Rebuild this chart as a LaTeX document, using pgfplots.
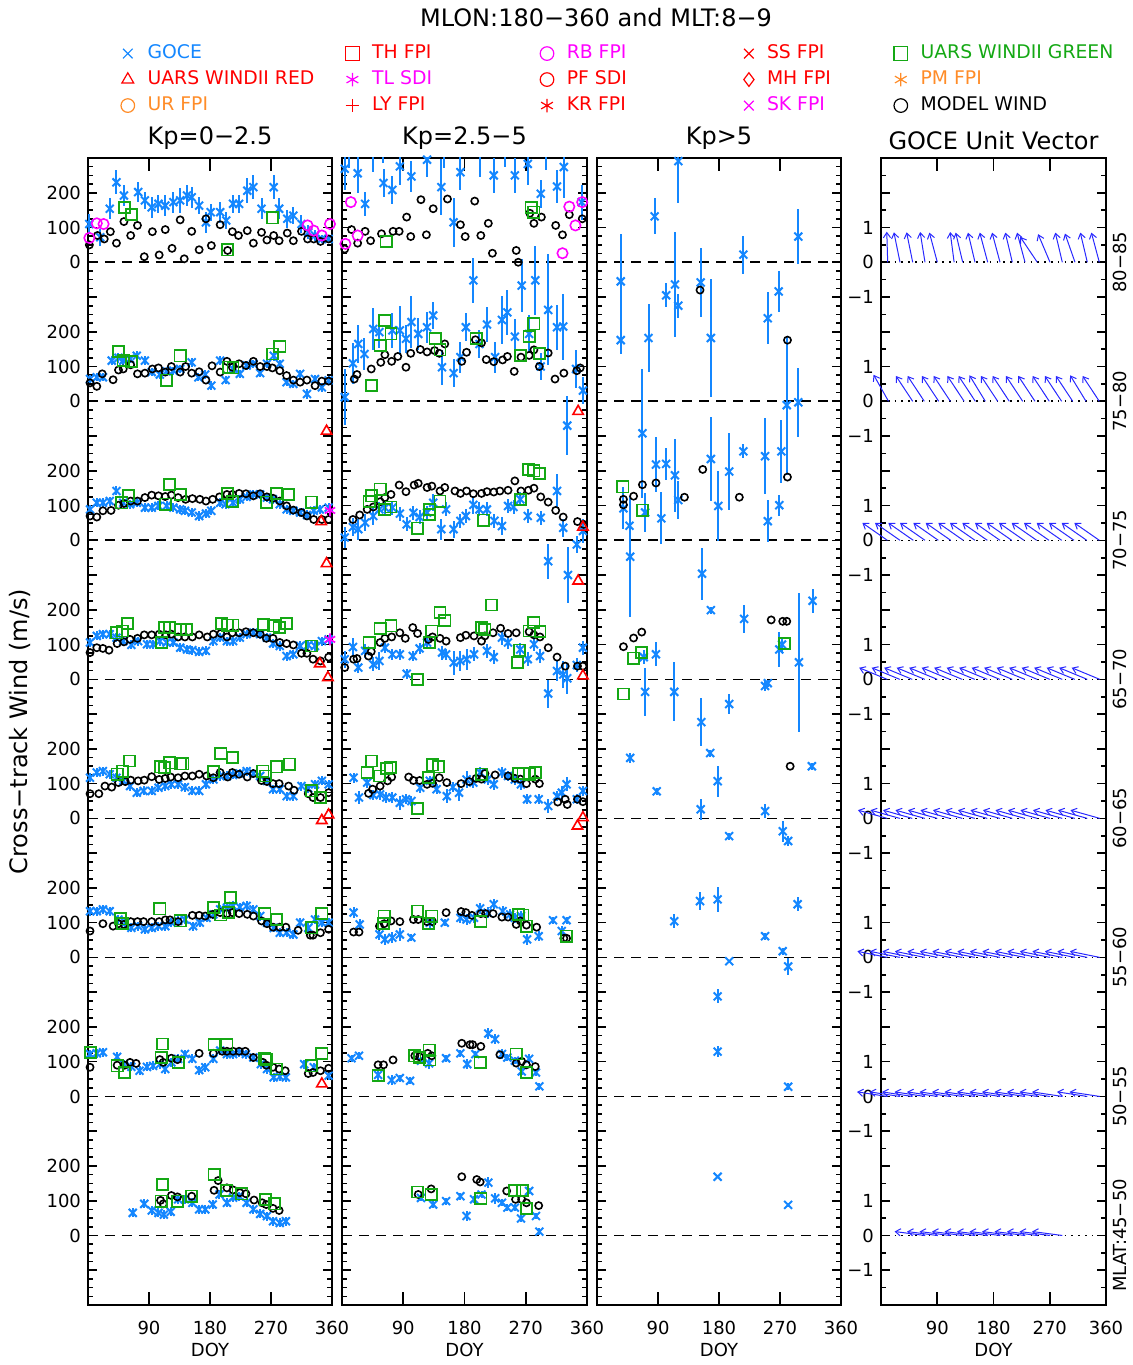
\documentclass[border=0pt]{standalone}
\usepackage{pgfplots}
\pgfplotsset{compat=1.18}
\usepackage{pgfplotstable}
\usepackage{fontspec}
\setmainfont{DejaVu Sans}
\usetikzlibrary{arrows.meta}

\definecolor{goce}{RGB}{20,135,255}
\definecolor{windiig}{RGB}{20,168,20}
\definecolor{fpired}{RGB}{255,0,0}
\definecolor{fpimag}{RGB}{255,0,255}
\definecolor{fpiorange}{RGB}{255,140,40}
\definecolor{vecblue}{RGB}{40,40,255}

% each latitude band is stacked 400 m/s above the previous one
\newcommand{\bandY}{\thisrow{v}+80*(\thisrow{lat}-45)}

% ---------------- Kp = 0-2.5 ----------------
\pgfplotstableread{
lat doy v e
80 2 110 30
80 18 72 25
80 32 154 30
80 42 230 35
80 53 192 30
80 74 202 30
80 84 178 25
80 94 158 30
80 104 168 25
80 114 163 30
80 126 173 30
80 136 178 35
80 146 192 30
80 153 187 30
80 164 163 25
80 174 115 30
80 181 144 25
80 195 144 30
80 204 120 25
80 214 168 25
80 223 168 25
80 235 206 35
80 244 216 35
80 256 154 30
80 274 216 35
80 282 154 30
80 294 125 25
80 303 134 25
80 315 110 25
80 325 86 20
80 335 77 15
80 345 67 12
80 355 67 12
75 3 64 12
75 13 69 12
75 22 69 12
75 35 117 14
75 45 125 14
75 52 117 14
75 62 122 12
75 72 131 14
75 84 117 12
75 94 84 12
75 106 77 12
75 116 86 12
75 126 88 12
75 136 93 12
75 153 112 14
75 163 69 12
75 173 77 12
75 182 45 12
75 195 117 14
75 203 61 12
75 214 93 12
75 224 79 12
75 234 103 12
75 244 108 12
75 254 81 12
75 264 108 12
75 274 131 14
75 283 108 12
75 293 55 12
75 303 50 12
75 313 79 12
75 323 21 14
75 335 64 12
75 345 40 12
75 355 60 12
70 3 89 13
70 13 108 13
70 22 108 13
70 32 113 13
70 42 142 13
70 52 108 13
70 62 104 13
70 72 108 13
70 84 94 13
70 94 94 13
70 104 99 13
70 116 99 13
70 126 94 13
70 136 89 13
70 143 85 13
70 153 80 13
70 164 70 13
70 174 77 13
70 182 85 13
70 195 108 13
70 203 104 13
70 214 108 13
70 224 118 13
70 234 125 13
70 244 132 13
70 254 132 13
70 264 123 13
70 273 118 13
70 283 104 13
70 293 89 13
70 303 85 13
70 313 80 13
70 323 73 13
70 333 85 13
70 342 89 13
70 355 94 13
65 3 106 13
65 13 125 13
65 22 130 13
65 32 130 13
65 42 120 13
65 52 110 13
65 64 99 13
65 74 110 13
65 87 101 13
65 96 101 13
65 106 110 13
65 116 106 13
65 126 106 13
65 136 91 13
65 146 86 13
65 154 84 13
65 164 79 13
65 174 82 13
65 185 110 13
65 195 120 13
65 205 110 13
65 214 110 13
65 224 120 13
65 234 130 13
65 244 134 13
65 254 130 13
65 264 120 13
65 273 103 13
65 283 96 13
65 293 67 13
65 303 72 13
65 313 96 13
65 325 99 13
65 335 96 13
65 345 110 13
65 355 115 13
60 3 117 13
60 13 132 13
60 22 136 13
60 32 127 13
60 42 117 13
60 52 108 13
60 62 93 13
60 72 74 13
60 82 79 13
60 94 79 13
60 104 88 13
60 114 93 13
60 123 98 13
60 133 98 13
60 143 90 13
60 154 79 13
60 164 79 13
60 174 98 13
60 185 112 13
60 195 122 13
60 205 122 13
60 214 125 13
60 224 129 13
60 234 136 13
60 244 129 13
60 254 122 13
60 264 108 13
60 273 84 13
60 283 84 13
60 293 64 13
60 303 64 13
60 315 93 13
60 325 86 13
60 335 98 13
60 345 108 13
60 355 98 13
55 3 133 13
55 13 133 13
55 22 138 13
55 32 133 13
55 45 109 13
55 55 100 13
55 64 85 13
55 74 90 13
55 84 81 13
55 94 85 13
55 104 90 13
55 114 90 13
55 123 100 13
55 133 105 13
55 143 109 13
55 155 90 13
55 165 100 13
55 175 114 13
55 185 124 13
55 195 138 13
55 205 143 13
55 214 148 13
55 224 145 13
55 234 148 13
55 244 138 13
55 254 119 13
55 264 100 13
55 274 85 13
55 283 71 13
55 293 71 13
55 303 66 13
55 313 100 13
55 325 85 13
55 335 109 13
55 345 100 13
55 355 100 13
50 3 122 13
50 13 124 13
50 22 127 13
50 43 114 13
50 53 93 13
50 64 85 13
50 76 74 13
50 87 85 13
50 96 88 13
50 106 93 13
50 114 79 13
50 123 98 13
50 133 108 13
50 143 122 13
50 154 108 13
50 164 76 13
50 173 84 13
50 185 108 13
50 195 132 13
50 205 122 13
50 214 122 13
50 223 127 13
50 233 122 13
50 244 112 13
50 255 93 13
50 264 79 13
50 274 55 13
50 283 57 13
50 292 55 13
50 319 93 13
50 333 84 13
50 355 60 13
45 66 65 13
45 83 91 13
45 94 72 13
45 104 65 13
45 112 60 13
45 122 68 13
45 133 104 13
45 143 104 13
45 154 94 13
45 164 75 13
45 173 75 13
45 184 89 13
45 194 118 13
45 205 94 13
45 214 109 13
45 223 113 13
45 234 94 13
45 244 75 13
45 254 62 13
45 264 56 13
45 273 41 13
45 283 36 13
45 292 41 13
}\goceA

\pgfplotstableread{
lat doy v
80 2 50
80 14 77
80 24 67
80 33 88
80 42 55
80 53 117
80 63 77
80 73 106
80 83 16
80 95 88
80 105 21
80 114 94
80 124 40
80 136 122
80 142 10
80 153 89
80 164 36
80 174 125
80 182 48
80 195 108
80 206 34
80 213 88
80 222 77
80 235 91
80 244 55
80 256 86
80 264 64
80 274 77
80 282 62
80 294 84
80 303 62
80 315 89
80 324 67
80 333 67
80 343 60
80 355 67
75 3 53
75 13 43
75 21 79
75 37 62
75 45 90
75 52 93
75 63 105
75 73 79
75 84 81
75 95 93
75 104 96
75 114 84
75 123 100
75 136 84
75 144 100
75 153 81
75 164 85
75 174 61
75 183 102
75 195 84
75 205 115
75 213 98
75 223 108
75 233 103
75 244 115
75 254 100
75 264 100
75 272 96
75 283 88
75 293 74
75 303 61
75 313 55
75 323 61
75 335 45
75 345 58
75 355 58
70 3 70
70 13 67
70 22 85
70 34 86
70 45 101
70 53 106
70 63 113
70 73 113
70 84 123
70 94 130
70 104 128
70 114 126
70 123 130
70 133 123
70 144 118
70 154 120
70 165 118
70 174 113
70 184 118
70 194 125
70 205 132
70 213 132
70 223 135
70 233 134
70 244 128
70 254 134
70 264 125
70 273 121
70 283 113
70 293 99
70 303 87
70 315 80
70 323 70
70 333 60
70 345 60
70 355 60
65 3 77
65 13 91
65 22 89
65 31 84
65 43 103
65 53 108
65 62 115
65 73 118
65 83 128
65 94 128
65 105 130
65 115 128
65 123 130
65 133 122
65 143 122
65 154 122
65 164 128
65 176 122
65 185 130
65 196 132
65 205 122
65 213 134
65 223 134
65 233 137
65 244 134
65 254 130
65 263 118
65 273 118
65 283 106
65 293 103
65 303 99
65 315 75
65 323 75
65 332 58
65 343 53
65 355 64
60 3 71
60 16 71
60 25 93
60 35 90
60 45 103
60 55 106
60 63 110
60 74 108
60 83 110
60 94 120
60 105 112
60 114 115
60 122 119
60 133 117
60 143 122
60 154 122
60 164 127
60 175 122
60 185 117
60 195 132
60 206 119
60 213 132
60 223 127
60 235 119
60 244 129
60 256 109
60 264 106
60 273 100
60 282 100
60 296 93
60 304 81
60 325 71
60 332 60
60 343 60
60 355 74
55 3 76
55 22 97
55 37 90
55 45 97
55 53 95
55 63 103
55 73 103
55 82 103
55 94 103
55 105 103
55 114 108
55 121 108
55 133 103
55 154 121
55 164 121
55 173 119
55 184 124
55 195 129
55 205 126
55 213 129
55 223 126
55 235 124
55 244 119
55 256 105
55 264 97
55 273 87
55 283 87
55 292 87
55 310 78
55 328 64
55 332 64
55 343 71
55 355 81
50 3 84
50 43 90
50 54 90
50 62 98
50 71 95
50 106 106
50 111 98
50 123 110
50 132 106
50 164 124
50 185 124
50 198 130
50 205 130
50 214 130
50 223 130
50 232 130
50 244 112
50 258 98
50 263 90
50 273 84
50 282 79
50 291 74
50 325 66
50 332 69
50 343 74
50 355 81
45 107 101
45 111 91
45 123 115
45 132 111
45 153 113
45 186 130
45 192 158
45 205 137
45 214 131
45 224 123
45 233 120
45 245 102
45 257 94
45 263 89
45 273 78
45 282 72
}\modelA

\pgfplotstableread{
lat doy v
80 54 158
80 64 137
80 206 36
80 272 128
75 45 143
75 52 117
75 64 115
75 116 61
75 136 131
75 207 98
75 214 96
75 272 136
75 283 157
70 50 108
70 60 128
70 114 104
70 120 161
70 136 132
70 206 135
70 213 111
70 263 110
70 278 135
70 296 132
70 330 110
65 42 134
65 51 139
65 58 160
65 109 106
65 113 149
65 120 149
65 136 144
65 145 144
65 197 160
65 206 156
65 214 156
65 259 158
65 274 154
65 282 149
65 293 160
65 330 96
60 43 127
60 51 136
60 61 165
60 107 148
60 113 146
60 120 160
60 136 157
60 140 157
60 185 134
60 196 186
60 213 175
60 258 136
60 262 122
60 278 148
60 297 156
60 330 79
60 343 60
55 48 111
55 51 97
55 106 140
55 136 105
55 185 143
55 196 122
55 207 129
55 210 172
55 261 126
55 278 109
55 330 85
55 345 126
50 4 127
50 43 88
50 54 69
50 108 112
50 110 151
50 133 98
50 186 149
50 205 149
50 261 110
50 263 106
50 278 79
50 330 88
50 345 124
45 108 99
45 110 147
45 132 99
45 153 113
45 186 176
45 205 130
45 227 120
45 262 104
45 275 91
}\greenA

\pgfplotstableread{
lat doy v
80 2 70
80 13 112
80 23 110
80 324 106
80 333 91
80 345 77
80 357 110
}\rbA

\pgfplotstableread{
lat doy v
75 352 -86
70 344 54
70 352 -67
65 342 45
65 354 5
60 345 -6
60 355 10
50 345 36
}\redA

\pgfplotstableread{
lat doy v
70 357 86
65 357 115
}\tlA

% ---------------- Kp = 2.5-5 ----------------
\pgfplotstableread{
lat doy v e
80 4 269 60
80 10 330 60
80 23 256 56
80 34 168 35
80 46 320 60
80 60 345 60
80 61 228 40
80 74 208 40
80 85 276 55
80 102 247 45
80 125 295 50
80 146 216 80
80 150 340 70
80 164 115 70
80 174 259 50
80 203 305 60
80 223 250 50
80 240 335 60
80 254 250 50
80 273 283 60
80 292 197 40
80 300 325 60
80 316 218 48
80 326 274 90
80 352 173 50
75 4 12 80
75 16 109 60
75 24 165 55
75 33 136 45
75 46 208 60
75 55 199 45
75 74 204 50
75 85 204 70
75 94 180 40
75 102 228 75
75 112 194 45
75 125 213 45
75 134 247 40
75 147 98 50
75 164 81 40
75 174 127 45
75 182 213 40
75 193 348 65
75 202 165 40
75 213 221 50
75 225 127 45
75 235 234 70
75 243 256 65
75 254 186 50
75 264 333 75
75 275 194 55
75 284 348 100
75 292 100 40
75 303 263 160
75 316 213 65
75 325 215 95
75 331 -70 85
75 344 93 55
75 354 31 40
70 4 8 30
70 16 38 25
70 24 32 30
70 34 51 25
70 46 70 25
70 55 89 20
70 63 94 20
70 74 94 20
70 85 77 20
70 95 46 20
70 105 79 20
70 114 67 20
70 125 80 20
70 134 108 25
70 146 32 30
70 153 89 20
70 164 32 25
70 174 56 20
70 182 70 20
70 193 102 25
70 202 89 20
70 213 89 20
70 224 56 20
70 235 41 25
70 244 99 20
70 252 96 20
70 262 118 20
70 273 70 20
70 292 65 20
70 303 -60 50
70 316 142 50
70 325 36 25
70 332 -100 80
70 345 -12 25
70 354 27 35
65 4 58 25
65 16 93 25
65 24 34 15
65 34 82 20
65 46 43 20
65 55 53 25
65 63 91 15
65 74 72 15
65 85 72 15
65 95 16 15
65 104 67 15
65 114 89 15
65 125 106 20
65 147 77 20
65 153 72 15
65 164 48 35
65 174 53 30
65 183 58 30
65 194 72 20
65 213 82 20
65 223 64 20
65 235 120 20
65 244 106 20
65 262 86 20
65 273 58 20
65 282 101 20
65 291 67 20
65 303 -41 40
65 316 24 30
65 325 14 40
65 331 3 45
65 345 41 20
65 354 91 20
60 17 117 15
60 25 60 20
60 37 103 15
60 46 67 15
60 56 69 15
60 65 60 15
60 74 60 15
60 85 45 20
60 94 55 15
60 102 50 15
60 115 88 15
60 129 108 15
60 139 84 15
60 154 64 20
60 163 90 15
60 172 74 25
60 183 112 25
60 193 103 15
60 203 132 15
60 214 112 15
60 223 98 15
60 235 132 15
60 244 122 15
60 254 112 15
60 263 98 15
60 272 55 15
60 289 55 15
60 303 36 20
60 316 64 15
60 323 74 20
60 330 98 20
60 345 55 15
60 354 79 15
55 17 129 15
55 26 95 15
55 55 66 15
55 63 52 15
55 74 57 15
55 85 66 20
55 102 57 10
55 129 100 15
55 151 100 10
55 174 114 15
55 183 109 15
55 194 114 15
55 203 141 15
55 214 129 15
55 223 153 15
55 236 133 15
55 247 124 15
55 254 114 15
55 263 119 15
55 272 52 15
55 289 61 15
55 310 107 10
55 323 76 15
55 330 107 10
50 14 110 10
50 25 117 10
50 53 62 15
50 73 47 15
50 85 53 10
50 100 45 10
50 116 103 10
50 128 95 15
50 153 110 10
50 174 124 10
50 184 93 15
50 196 122 10
50 215 181 15
50 225 165 15
50 235 122 15
50 243 112 10
50 254 103 10
50 264 72 10
50 275 108 15
50 285 69 10
50 290 29 10
45 116 108 10
45 134 89 10
45 153 99 10
45 174 113 10
45 183 56 15
45 194 104 10
45 205 118 10
45 215 152 15
45 225 107 15
45 235 94 10
45 243 80 10
45 254 80 10
45 263 49 10
45 275 128 10
45 285 56 10
45 290 11 10
}\goceB

\pgfplotstableread{
lat doy v
80 4 38
80 14 94
80 23 55
80 34 89
80 42 62
80 58 82
80 75 89
80 84 89
80 95 130
80 101 74
80 116 180
80 124 79
80 134 154
80 155 182
80 174 108
80 181 74
80 195 176
80 204 77
80 215 112
80 221 26
80 256 34
80 259 0
80 276 141
80 282 112
80 293 130
80 314 106
80 324 79
80 334 137
80 353 125
75 18 64
75 22 77
75 43 93
75 57 112
75 63 134
75 73 115
75 82 129
75 94 98
75 101 138
75 115 149
75 125 142
75 136 146
75 143 138
75 151 165
75 176 115
75 183 141
75 196 177
75 205 168
75 212 120
75 223 114
75 236 119
75 243 129
75 253 86
75 263 127
75 275 132
75 282 148
75 290 100
75 303 139
75 313 64
75 326 81
75 345 88
75 350 96
70 16 60
70 26 73
70 37 89
70 46 96
70 56 111
70 63 123
70 72 132
70 84 159
70 94 140
70 106 159
70 112 164
70 125 152
70 132 156
70 144 142
70 151 152
70 166 142
70 174 135
70 183 142
70 193 134
70 205 135
70 213 140
70 223 139
70 232 142
70 244 144
70 254 171
70 263 142
70 274 144
70 282 150
70 292 125
70 303 110
70 314 86
70 325 67
70 346 54
70 355 46
65 4 34
65 17 58
65 22 60
65 39 67
65 43 80
65 56 106
65 63 118
65 73 122
65 85 134
65 93 118
65 104 149
65 111 132
65 127 115
65 133 122
65 144 118
65 153 110
65 174 120
65 182 127
65 194 125
65 205 110
65 210 125
65 222 134
65 233 147
65 244 132
65 256 134
65 275 137
65 282 128
65 291 122
65 303 91
65 316 64
65 328 38
65 346 38
65 354 38
60 39 72
60 45 84
60 56 93
60 67 108
60 73 119
60 98 119
60 105 109
60 114 109
60 125 98
60 133 101
60 143 117
60 154 103
60 175 100
60 187 106
60 197 115
60 205 113
60 210 129
60 225 125
60 244 122
60 254 115
60 262 113
60 271 100
60 284 113
60 290 100
60 317 47
60 328 55
60 331 40
60 346 55
60 354 48
55 17 73
55 25 73
55 55 90
55 62 97
55 72 105
55 85 103
55 105 109
55 112 109
55 125 103
55 133 103
55 153 129
55 175 132
55 182 129
55 191 121
55 204 126
55 211 126
55 222 126
55 235 116
55 244 116
55 256 95
55 262 105
55 271 93
55 286 87
55 326 55
55 330 55
50 53 91
50 61 91
50 75 105
50 107 117
50 114 114
50 126 124
50 132 117
50 176 153
50 188 149
50 192 149
50 204 144
50 232 120
50 256 96
50 264 101
50 271 91
50 284 86
45 112 118
45 131 134
45 176 169
45 198 161
45 203 154
45 242 128
45 255 104
45 264 104
45 271 94
45 289 86
}\modelB

\pgfplotstableread{
lat doy v
80 65 60
80 278 158
80 282 144
75 43 45
75 56 160
75 63 232
75 72 194
75 137 180
75 144 148
75 197 181
75 262 132
75 275 186
75 282 223
75 290 138
70 40 111
70 43 128
70 56 147
70 63 89
70 72 96
70 111 35
70 128 75
70 129 89
70 144 113
70 208 58
70 262 118
70 274 204
70 282 200
70 290 192
65 40 106
65 56 146
65 72 154
65 111 0
65 128 106
65 132 139
65 144 192
65 151 170
65 205 149
65 210 144
65 220 214
65 258 48
65 261 84
65 275 139
65 282 163
65 291 137
60 37 132
60 43 165
60 55 122
60 66 144
60 71 146
60 111 29
60 127 117
60 133 154
60 142 148
60 205 127
60 259 129
60 266 129
60 275 127
60 284 132
55 61 97
55 62 119
55 111 133
55 127 97
55 132 119
55 204 103
55 259 124
55 266 122
55 271 90
55 330 61
50 53 60
50 107 117
50 114 112
50 128 133
50 129 105
50 203 98
50 256 122
50 271 69
45 111 125
45 131 118
45 204 107
45 254 130
45 265 130
45 271 78
}\greenB

\pgfplotstableread{
lat doy v
80 5 53
80 13 173
80 23 77
80 324 26
80 334 160
80 343 106
80 353 173
}\rbB

\pgfplotstableread{
lat doy v
75 347 -29
70 354 38
70 347 -117
65 354 10
60 354 2
60 346 -22
}\redB

% ---------------- Kp > 5 ----------------
\pgfplotstableread{
lat doy v e
80 35 -55 137
75 35 176 40
80 85 132 52
80 120 291 120
75 76 182 99
75 102 305 35
80 115 -64 150
75 120 275 35
80 153 -58 100
75 168 182 170
80 216 22 55
75 252 239 75
80 268 -84 60
75 280 -11 200
80 297 74 80
75 297 -3 100
75 67 -92 185
70 87 218 80
70 102 220 45
70 115 187 105
70 120 116 55
70 168 234 120
70 179 99 100
70 195 198 110
70 216 256 20
70 248 242 110
70 252 55 60
70 272 256 90
70 269 101 30
70 39 92 60
70 48 42 30
70 49 -47 175
70 71 80 55
70 95 63 75
70 155 -96 75
65 168 199 10
65 217 174 40
65 318 226 35
65 269 86 50
65 273 100 20
65 298 49 200
65 71 -36 70
65 114 -36 85
65 154 -123 70
65 195 -71 30
65 248 -19 15
65 252 -11 10
65 87 72 35
65 69 64 20
60 49 174 15
60 88 78 10
60 153 26 30
60 178 107 45
60 167 188 10
60 195 -51 10
60 248 21 20
60 274 -37 30
60 282 -65 15
60 317 150 10
55 114 104 20
55 152 162 25
55 178 167 35
55 195 -11 5
55 248 61 10
55 274 18 10
55 282 -26 25
55 296 153 20
50 178 288 20
50 178 129 15
50 282 28 10
45 178 169 5
45 282 88 5
}\goceC

\pgfplotstableread{
lat doy v
70 39 102
70 39 118
70 54 127
70 67 160
70 87 165
70 129 124
70 156 204
70 210 124
70 281 182
75 281 176
80 152 -80
65 39 94
65 54 119
65 66 136
65 257 171
65 274 167
65 280 167
60 285 150
}\modelC

\pgfplotstableread{
lat doy v
70 38 154
70 67 87
65 54 61
65 66 77
65 39 -42
65 277 103
}\greenC

% ---------------- GOCE unit vectors ----------------
\pgfplotstableread{
lat doy ux uy
80 10.7 -0.03 1.00
80 30.4 -0.20 0.98
80 50.7 -0.20 0.98
80 70.4 -0.16 0.99
80 90.1 -0.26 0.97
80 117 -0.13 0.99
80 130.7 -0.23 0.97
80 150.4 -0.23 0.97
80 170.7 -0.26 0.97
80 190.4 -0.26 0.97
80 210.1 -0.23 0.97
80 230.4 -0.26 0.97
80 250.1 -0.56 0.83
80 270.4 -0.39 0.92
80 290.1 -0.23 0.97
80 310.4 -0.33 0.94
80 330.1 -0.23 0.97
80 349.3 -0.26 0.97
75 12 -0.49 0.87
75 50.7 -0.55 0.83
75 69.3 -0.55 0.83
75 92.3 -0.55 0.83
75 111 -0.55 0.83
75 133 -0.55 0.83
75 150.9 -0.55 0.83
75 166.9 -0.52 0.85
75 186.7 -0.55 0.83
75 205.3 -0.55 0.83
75 226.7 -0.55 0.83
75 246.4 -0.55 0.83
75 269.3 -0.55 0.83
75 289 -0.55 0.83
75 306.7 -0.55 0.83
75 328 -0.52 0.85
75 349.3 -0.55 0.83
70 10.2 -0.82 0.57
70 30.4 -0.82 0.57
70 51.7 -0.82 0.57
70 70.4 -0.82 0.57
70 91.7 -0.82 0.57
70 111.5 -0.82 0.57
70 131.7 -0.82 0.57
70 150.4 -0.82 0.57
70 170.1 -0.82 0.57
70 190.4 -0.82 0.57
70 209.1 -0.82 0.57
70 228.8 -0.82 0.57
70 249.1 -0.82 0.57
70 268.8 -0.82 0.57
70 289.1 -0.82 0.57
70 308.8 -0.82 0.57
70 329.1 -0.82 0.57
70 349.3 -0.82 0.57
65 10 -0.92 0.38
65 30 -0.92 0.38
65 50 -0.92 0.38
65 70 -0.92 0.38
65 90 -0.92 0.38
65 110 -0.92 0.38
65 130 -0.92 0.38
65 150 -0.92 0.38
65 170 -0.92 0.38
65 190 -0.92 0.38
65 210 -0.92 0.38
65 230 -0.92 0.38
65 250 -0.92 0.38
65 270 -0.92 0.38
65 290 -0.92 0.38
65 310 -0.92 0.38
65 330 -0.92 0.38
65 350 -0.92 0.38
60 10 -0.96 0.27
60 30 -0.96 0.27
60 50 -0.96 0.27
60 70 -0.96 0.27
60 90 -0.96 0.27
60 110 -0.96 0.27
60 130 -0.96 0.27
60 150 -0.96 0.27
60 170 -0.96 0.27
60 190 -0.96 0.27
60 210 -0.96 0.27
60 230 -0.96 0.27
60 250 -0.96 0.27
60 270 -0.96 0.27
60 290 -0.96 0.27
60 310 -0.96 0.27
60 330 -0.96 0.27
60 350 -0.96 0.27
55 10 -0.98 0.20
55 30 -0.98 0.20
55 50 -0.98 0.20
55 70 -0.98 0.20
55 90 -0.98 0.20
55 110 -0.98 0.20
55 130 -0.98 0.20
55 150 -0.98 0.20
55 170 -0.98 0.20
55 190 -0.98 0.20
55 210 -0.98 0.20
55 230 -0.98 0.20
55 250 -0.98 0.20
55 270 -0.98 0.20
55 290 -0.98 0.20
55 310 -0.98 0.20
55 330 -0.98 0.20
55 350 -0.98 0.20
50 10 -0.99 0.15
50 30 -0.99 0.15
50 50 -0.99 0.15
50 70 -0.99 0.15
50 90 -0.99 0.15
50 110 -0.99 0.15
50 130 -0.99 0.15
50 150 -0.99 0.15
50 170 -0.99 0.15
50 190 -0.99 0.15
50 210 -0.99 0.15
50 230 -0.99 0.15
50 250 -0.99 0.15
50 270 -0.99 0.15
50 290 -0.99 0.15
50 330 -0.99 0.15
50 350 -0.99 0.15
45 70 -0.99 0.13
45 90 -0.99 0.13
45 110 -0.99 0.13
45 130 -0.99 0.13
45 150 -0.99 0.13
45 170 -0.99 0.13
45 190 -0.99 0.13
45 210 -0.99 0.13
45 230 -0.99 0.13
45 250 -0.99 0.13
45 270 -0.99 0.13
45 290 -0.99 0.13
}\vecD

\pgfplotsset{
  band axis/.style={
    scale only axis, anchor=south west, height=573.5pt,
    xmin=0, xmax=360, ymin=-200, ymax=3100,
    xtick={90,180,270,360}, xticklabels={90,180,270,360},
    ytick={-200,-100,...,3100}, minor y tick num=3,
    tick align=inside,
    major tick length=4.5pt, minor tick length=2.5pt,
    xtick style={/pgfplots/major tick length=6.5pt},
    axis line style={line width=0.9pt},
    every tick/.append style={black, line width=0.8pt},
    tick label style={font=\fontsize{9}{10}\selectfont},
    xticklabel style={yshift=-4.5pt},
    xlabel={DOY},
    xlabel style={font=\fontsize{9}{10}\selectfont, at={(axis description cs:0.5,0)}, anchor=center, yshift=-22.5pt},
    title style={font=\fontsize{12}{14}\selectfont, yshift=-5.5pt},
  },
  goceplot/.style={only marks, mark=x, mark size=2.8pt, color=goce, line width=1pt,
    error bars/y dir=both, error bars/y explicit, error bars/error mark=none,
    error bars/error bar style={color=goce, line width=1pt}},
  modelplot/.style={only marks, mark=o, mark size=1.8pt, black, line width=0.8pt},
  greenplot/.style={only marks, mark=square, mark size=2.8pt, color=windiig, line width=0.85pt},
  rbplot/.style={only marks, mark=o, mark size=2.6pt, color=fpimag, line width=0.8pt},
  redtri/.style={only marks, mark=triangle, mark size=3pt, color=fpired, line width=0.8pt},
  tlplot/.style={only marks, mark=asterisk, mark size=3pt, color=fpimag, line width=0.8pt},
  zeroline/.style={black, line width=0.85pt, dash pattern=on 5pt off 3.5pt, forget plot},
  legmark/.style={only marks, mark size=3.4pt, line width=0.6pt},
}

\begin{document}
\begin{tikzpicture}
\useasboundingbox (0,0) rectangle (566.5pt,682.5pt);

% ---------- column 1 ----------
\begin{axis}[band axis, at={(44pt,30pt)}, width=122pt,
  title={Kp=0−2.5},
  yticklabels={{},{},0,100,200,{},0,100,200,{},0,100,200,{},0,100,200,{},0,100,200,{},0,100,200,{},0,100,200,{},0,100,200,{}},
  ylabel={Cross−track Wind (m/s)},
  ylabel style={font=\fontsize{12}{14}\selectfont, at={(axis description cs:-0.279,0.5)}, anchor=center},
  legend columns=5,
  legend cell align=left,
  legend style={draw=none, fill=none, inner sep=0pt, outer sep=0pt, column sep=0pt, row sep=1pt,
    at={(axis description cs:0.1353,1.1015)}, anchor=north west,
    nodes={inner sep=1.5pt, text height=7pt, text depth=2pt, font=\fontsize{9.4}{10}\selectfont}},
]
\addlegendimage{legmark, mark=x, goce}
\addlegendentry[text=goce]{\makebox[102.5pt][l]{\hspace*{5pt}GOCE}}
\addlegendimage{legmark, mark=square, fpired}
\addlegendentry[text=fpired]{\makebox[87.5pt][l]{\hspace*{5pt}TH FPI}}
\addlegendimage{legmark, mark=o, fpimag}
\addlegendentry[text=fpimag]{\makebox[92pt][l]{\hspace*{5pt}RB FPI}}
\addlegendimage{legmark, mark=x, fpired}
\addlegendentry[text=fpired]{\makebox[67pt][l]{\hspace*{5pt}SS FPI}}
\addlegendimage{legmark, mark=square, windiig}
\addlegendentry[text=windiig]{\makebox[105pt][l]{\hspace*{5pt}UARS WINDII GREEN}}
\addlegendimage{legmark, mark=triangle, fpired}
\addlegendentry[text=fpired]{\hspace*{5pt}UARS WINDII RED}
\addlegendimage{legmark, mark=asterisk, fpimag}
\addlegendentry[text=fpimag]{\hspace*{5pt}TL SDI}
\addlegendimage{legmark, mark=o, fpired}
\addlegendentry[text=fpired]{\hspace*{5pt}PF SDI}
\addlegendimage{legmark, mark=diamond, fpired}
\addlegendentry[text=fpired]{\hspace*{5pt}MH FPI}
\addlegendimage{legmark, mark=asterisk, fpiorange}
\addlegendentry[text=fpiorange]{\hspace*{5pt}PM FPI}
\addlegendimage{legmark, mark=o, fpiorange}
\addlegendentry[text=fpiorange]{\hspace*{5pt}UR FPI}
\addlegendimage{legmark, mark=+, fpired}
\addlegendentry[text=fpired]{\hspace*{5pt}LY FPI}
\addlegendimage{legmark, mark=asterisk, fpired}
\addlegendentry[text=fpired]{\hspace*{5pt}KR FPI}
\addlegendimage{legmark, mark=x, fpimag}
\addlegendentry[text=fpimag]{\hspace*{5pt}SK FPI}
\addlegendimage{legmark, mark=o, black}
\addlegendentry[text=black]{\hspace*{5pt}MODEL WIND}

\pgfplotsinvokeforeach{0,400,...,2800}{\addplot[zeroline] coordinates {(0,#1) (360,#1)};}
\addplot[goceplot, forget plot] table[x=doy, y expr=\bandY, y error=e] {\goceA};
\addplot[modelplot, forget plot] table[x=doy, y expr=\bandY] {\modelA};
\addplot[greenplot, forget plot] table[x=doy, y expr=\bandY] {\greenA};
\addplot[rbplot, forget plot] table[x=doy, y expr=\bandY] {\rbA};
\addplot[redtri, forget plot] table[x=doy, y expr=\bandY] {\redA};
\addplot[tlplot, forget plot] table[x=doy, y expr=\bandY] {\tlA};
\end{axis}

% ---------- column 2 ----------
\begin{axis}[band axis, at={(171pt,30pt)}, width=122.5pt,
  title={Kp=2.5−5}, yticklabels={{}}]
\pgfplotsinvokeforeach{0,400,...,2800}{\addplot[zeroline] coordinates {(0,#1) (360,#1)};}
\addplot[goceplot] table[x=doy, y expr=\bandY, y error=e] {\goceB};
\addplot[modelplot] table[x=doy, y expr=\bandY] {\modelB};
\addplot[greenplot] table[x=doy, y expr=\bandY] {\greenB};
\addplot[rbplot] table[x=doy, y expr=\bandY] {\rbB};
\addplot[redtri] table[x=doy, y expr=\bandY] {\redB};
\end{axis}

% ---------- column 3 ----------
\begin{axis}[band axis, at={(298.5pt,30pt)}, width=122pt,
  title={Kp>5}, yticklabels={{}}]
\pgfplotsinvokeforeach{0,400,...,2800}{\addplot[zeroline] coordinates {(0,#1) (360,#1)};}
\addplot[goceplot] table[x=doy, y expr=\bandY, y error=e] {\goceC};
\addplot[modelplot] table[x=doy, y expr=\bandY] {\modelC};
\addplot[greenplot] table[x=doy, y expr=\bandY] {\greenC};
\end{axis}

% ---------- column 4: unit vectors ----------
\begin{axis}[band axis, at={(440.5pt,30pt)}, width=112.5pt,
  title={GOCE Unit Vector}, minor y tick num=1, clip=false,
  yticklabels={{},−1,0,1,{},−1,0,1,{},−1,0,1,{},−1,0,1,{},−1,0,1,{},−1,0,1,{},−1,0,1,{},−1,0,1,{},{}}]
\pgfplotsinvokeforeach{0,400,...,2800}{\addplot[black, line width=0.8pt, dash pattern=on 0.8pt off 2.6pt] coordinates {(0,#1) (360,#1)};}
\addplot[vecblue, line width=0.5pt, -{Straight Barb[length=2.6pt,width=3.6pt]},
  quiver={u=\thisrow{ux}*48.8, v=\thisrow{uy}*87.9}]
  table[x=doy, y expr=80*(\thisrow{lat}-45)] {\vecD};
\begin{scope}[every node/.style={rotate=90, font=\fontsize{9}{10}\selectfont}]
\node at (axis cs:382,2800) {80−85};
\node at (axis cs:382,2400) {75−80};
\node at (axis cs:382,2000) {70−75};
\node at (axis cs:382,1600) {65−70};
\node at (axis cs:382,1200) {60−65};
\node at (axis cs:382,800) {55−60};
\node at (axis cs:382,400) {50−55};
\node at (axis cs:382,0) {MLAT:45−50};
\end{scope}
\end{axis}

\node[font=\fontsize{12}{14}\selectfont] at (298pt,673.5pt) {MLON:180−360 and MLT:8−9};
\end{tikzpicture}
\end{document}
